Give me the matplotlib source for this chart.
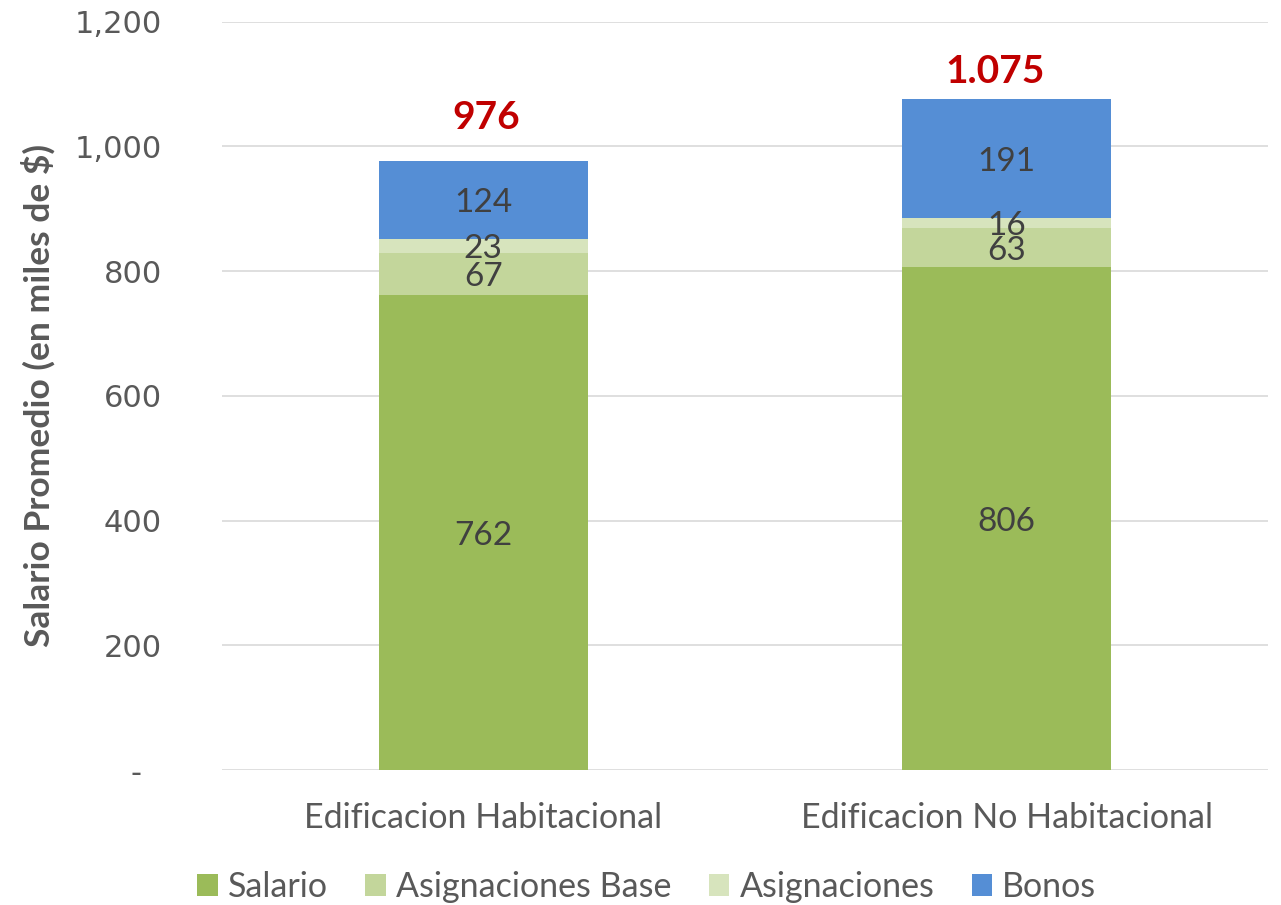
import matplotlib
matplotlib.use("Agg")
import matplotlib.pyplot as plt
import numpy as np

categories = ["Edificacion Habitacional", "Edificacion No Habitacional"]
series_names = ["Salario", "Asignaciones Base", "Asignaciones", "Bonos"]
salario = [762, 806]
asig_base = [67, 63]
asignaciones = [23, 16]
bonos = [124, 191]
totals_text = ["976", "1.075"]
yticks = [0, 200, 400, 600, 800, 1000, 1200]
ytick_labels = ["-  ", "200", "400", "600", "800", "1,000", "1,200"]

colors = ["#9BBB59", "#C3D69B", "#D7E4BD", "#558ED5"]
# label placement relative to bar tops (positioning only)
total_dy = [71, 44]
total_dx = [0.006, -0.022]

fig = plt.figure(figsize=(12.81, 9.05), dpi=100)
ax = fig.add_axes([0.173, 0.149, 0.817, 0.827])

x = np.arange(len(categories))
width = 0.4
bottom = np.zeros(len(categories))
series = [salario, asig_base, asignaciones, bonos]
for vals, name, c in zip(series, series_names, colors):
    vals = np.array(vals, dtype=float)
    ax.bar(x, vals, width, bottom=bottom, color=c, label=name, zorder=2)
    for xi, b, v in zip(x, bottom, vals):
        ax.text(xi, b + v / 2, f"{int(v)}", ha="center", va="center_baseline",
                fontsize=24, color="#404040", family="Lato", zorder=3)
    bottom = bottom + vals

for xi, tot, txt, dy, dx in zip(x, bottom, totals_text, total_dy, total_dx):
    ax.text(xi + dx, tot + dy, txt, ha="center", va="center", fontsize=28,
            fontweight="bold", color="#C00000", family="Lato")

ax.set_xlim(-0.5, 1.5)
ax.set_ylim(0, 1200)
ax.set_yticks(yticks)
ax.set_yticklabels(ytick_labels, fontsize=22, color="#595959", family="DejaVu Sans")
ax.set_xticks(x)
ax.set_xticklabels(categories, fontsize=24.5, color="#595959", family="Lato")
ax.tick_params(axis="x", length=0, pad=23)
ax.tick_params(axis="y", length=0, pad=43)
ax.yaxis.grid(True, color="#D9D9D9", linewidth=1.2, zorder=0)
ax.set_axisbelow(True)
for s in ax.spines.values():
    s.set_visible(False)

ax.set_ylabel("Salario Promedio (en miles de $)", fontsize=25.5, fontweight="bold",
              color="#595959", family="Lato")
ax.yaxis.set_label_coords(-0.159, 0.5)

fig.legend(loc="center", bbox_to_anchor=(0.505, 0.02), ncol=4, frameon=False,
           prop={"family": "Lato", "size": 24.5}, labelcolor="#595959",
           handlelength=0.6, handleheight=0.6, columnspacing=1.1, handletextpad=0.3)

fig.savefig("out.png", dpi=100)
